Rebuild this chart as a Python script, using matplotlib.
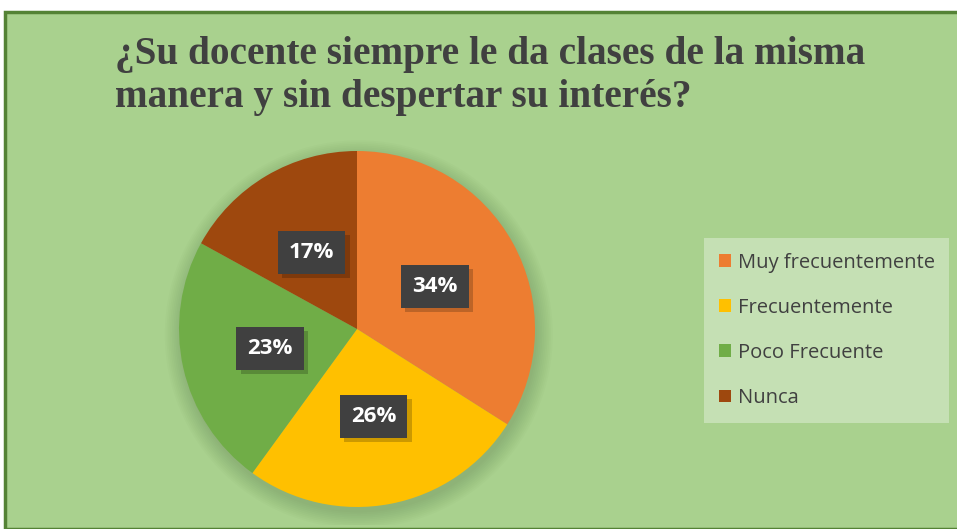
import matplotlib
matplotlib.use("Agg")
import matplotlib.pyplot as plt
from matplotlib.patches import Rectangle, Circle
import matplotlib.patheffects as pe

categories = ["Muy frecuentemente", "Frecuentemente", "Poco Frecuente", "Nunca"]
values = [34, 26, 23, 17]
colors = ["#ED7D31", "#FFC000", "#70AD47", "#9E480E"]
title = "¿Su docente siempre le da clases de la misma\nmanera y sin despertar su interés?"

W, H = 957, 529
fig = plt.figure(figsize=(W / 100, H / 100), dpi=100)
fig.patch.set_facecolor("white")

# chart area with green border
fig.patches.append(Rectangle((5 / W, 0), 1.0, 1 - 12 / H, transform=fig.transFigure,
                             facecolor="#A9D18E", edgecolor="#548235", linewidth=2.5,
                             zorder=-5))

fig.text(115 / W, 1 - 36 / H, title, ha="left", va="top", fontsize=28.3,
         fontfamily="Liberation Serif", fontweight="bold", color="#404040",
         linespacing=1.22)

cx, cy, r = 357, 329, 178
ax = fig.add_axes([(cx - r * 1.1) / W, (H - cy - r * 1.1) / H, 2.2 * r / W, 2.2 * r / H])

# soft shadow under the pie
for i in range(10):
    ax.add_patch(Circle((0.01, -0.03), 1.0 + 0.01 * i, facecolor="#2f4a1f",
                        alpha=0.018, edgecolor="none", zorder=0))

wedges, texts, autotexts = ax.pie(values, colors=colors, startangle=90, counterclock=False,
                                  autopct="%d%%", pctdistance=0.5, radius=1.0,
                                  wedgeprops=dict(linewidth=0), textprops=dict(zorder=5))
ax.set_xlim(-1.1, 1.1)
ax.set_ylim(-1.1, 1.1)
ax.set_aspect("equal")
ax.axis("off")
for w in wedges:
    w.set_zorder(2)
for t in autotexts:
    t.set_color("white")
    t.set_fontsize(16)
    t.set_fontweight("bold")
    t.set_fontfamily("Open Sans")
    t.set_bbox(dict(boxstyle="square,pad=0.5", facecolor="#404040", edgecolor="none"))
    t.get_bbox_patch().set_path_effects([pe.SimplePatchShadow(offset=(3, -3), shadow_rgbFace="black", alpha=0.2),
                                         pe.Normal()])

leg = fig.legend(wedges, categories, loc="upper left",
                 bbox_to_anchor=(704 / W, 1 - 238 / H), frameon=True, fancybox=False,
                 prop=dict(family="Open Sans", size=14.5), labelcolor="#404040",
                 handlelength=0.6, handleheight=0.6, handletextpad=0.35,
                 labelspacing=1.25, borderpad=0.72, borderaxespad=0)
leg.get_frame().set_facecolor("#C5E0B4")
leg.get_frame().set_edgecolor("none")
leg.get_frame().set_alpha(1)

fig.savefig("out.png", dpi=100)
